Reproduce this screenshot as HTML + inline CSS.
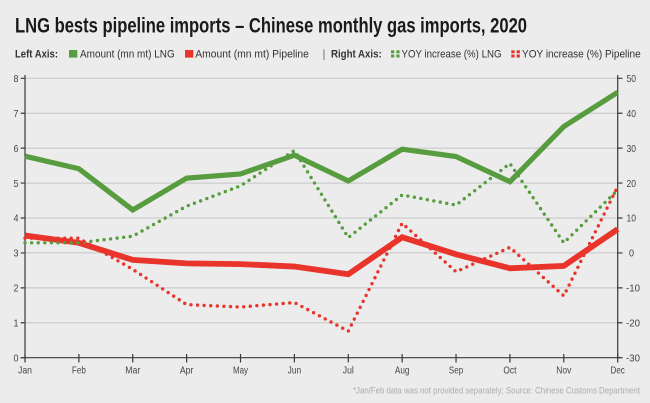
<!DOCTYPE html>
<html>
<head>
<meta charset="utf-8">
<style>
  html,body{margin:0;padding:0;background:#ececec;}
  svg{display:block;}
  text{font-family:"Liberation Sans",sans-serif;}
</style>
</head>
<body>
<svg width="650" height="403" viewBox="0 0 650 403" xmlns="http://www.w3.org/2000/svg">
  <rect x="0" y="0" width="650" height="403" fill="#ececec"/>

  <!-- Title -->
  <text x="15" y="32.3" font-size="21" font-weight="bold" fill="#1a1a1a" textLength="512" lengthAdjust="spacingAndGlyphs">LNG bests pipeline imports – Chinese monthly gas imports, 2020</text>

  <!-- Legend -->
  <g font-size="11" fill="#333">
    <text x="15" y="57.7" font-weight="bold" textLength="43" lengthAdjust="spacingAndGlyphs">Left Axis:</text>
    <rect x="69" y="50" width="8.3" height="7.6" fill="#579c3e"/>
    <text x="80" y="57.7" textLength="94.7" lengthAdjust="spacingAndGlyphs">Amount (mn mt) LNG</text>
    <rect x="185" y="50" width="8.3" height="7.6" fill="#e8342a"/>
    <text x="195.3" y="57.7" textLength="113.6" lengthAdjust="spacingAndGlyphs">Amount (mn mt) Pipeline</text>
    <text x="322.5" y="57.7" fill="#666">|</text>
    <text x="331" y="57.7" font-weight="bold" textLength="50.7" lengthAdjust="spacingAndGlyphs">Right Axis:</text>
    <g fill="#579c3e">
      <rect x="391" y="50.3" width="3.3" height="3"/><rect x="396.3" y="50.3" width="3.3" height="3"/>
      <rect x="391" y="54.5" width="3.3" height="3"/><rect x="396.3" y="54.5" width="3.3" height="3"/>
    </g>
    <text x="401.5" y="57.7" textLength="100" lengthAdjust="spacingAndGlyphs">YOY increase (%) LNG</text>
    <g fill="#e8342a">
      <rect x="511.3" y="50.3" width="3.3" height="3"/><rect x="516.6" y="50.3" width="3.3" height="3"/>
      <rect x="511.3" y="54.5" width="3.3" height="3"/><rect x="516.6" y="54.5" width="3.3" height="3"/>
    </g>
    <text x="522" y="57.7" textLength="118.7" lengthAdjust="spacingAndGlyphs">YOY increase (%) Pipeline</text>
  </g>

  <!-- Gridlines -->
  <g stroke="#c6c6c6" stroke-width="1">
    <line x1="25" y1="78.3" x2="617.7" y2="78.3"/>
    <line x1="25" y1="113.23" x2="617.7" y2="113.23"/>
    <line x1="25" y1="148.15" x2="617.7" y2="148.15"/>
    <line x1="25" y1="183.08" x2="617.7" y2="183.08"/>
    <line x1="25" y1="218" x2="617.7" y2="218"/>
    <line x1="25" y1="252.93" x2="617.7" y2="252.93"/>
    <line x1="25" y1="287.85" x2="617.7" y2="287.85"/>
    <line x1="25" y1="322.78" x2="617.7" y2="322.78"/>
  </g>

  <!-- Axes -->
  <g stroke="#3a3a3a" stroke-width="1.2" fill="none">
    <line x1="25" y1="75" x2="25" y2="358.3"/>
    <line x1="617.7" y1="75" x2="617.7" y2="358.3"/>
    <line x1="20.5" y1="357.7" x2="622.5" y2="357.7"/>
    <path d="M20.7 78.3H25M20.7 113.23H25M20.7 148.15H25M20.7 183.08H25M20.7 218H25M20.7 252.93H25M20.7 287.85H25M20.7 322.78H25M20.7 357.7H25"/>
    <path d="M617.7 78.3H622.5M617.7 113.23H622.5M617.7 148.15H622.5M617.7 183.08H622.5M617.7 218H622.5M617.7 252.93H622.5M617.7 287.85H622.5M617.7 322.78H622.5M617.7 357.7H622.5"/>
    <path d="M25 354V362.5M78.88 354V362.5M132.76 354V362.5M186.64 354V362.5M240.52 354V362.5M294.4 354V362.5M348.28 354V362.5M402.16 354V362.5M456.04 354V362.5M509.92 354V362.5M563.8 354V362.5M617.68 354V362.5"/>
  </g>

  <!-- Left labels -->
  <g font-size="10.5" fill="#444" text-anchor="end">
    <text x="18.5" y="82" textLength="5" lengthAdjust="spacingAndGlyphs">8</text>
    <text x="18.5" y="116.9" textLength="5" lengthAdjust="spacingAndGlyphs">7</text>
    <text x="18.5" y="151.8" textLength="5" lengthAdjust="spacingAndGlyphs">6</text>
    <text x="18.5" y="186.8" textLength="5" lengthAdjust="spacingAndGlyphs">5</text>
    <text x="18.5" y="221.7" textLength="5" lengthAdjust="spacingAndGlyphs">4</text>
    <text x="18.5" y="256.6" textLength="5" lengthAdjust="spacingAndGlyphs">3</text>
    <text x="18.5" y="291.5" textLength="5" lengthAdjust="spacingAndGlyphs">2</text>
    <text x="18.5" y="326.5" textLength="5" lengthAdjust="spacingAndGlyphs">1</text>
    <text x="18.5" y="361.4" textLength="5" lengthAdjust="spacingAndGlyphs">0</text>
  </g>

  <!-- Right labels -->
  <g font-size="10.5" fill="#444">
    <text x="626.5" y="82" textLength="9.5" lengthAdjust="spacingAndGlyphs">50</text>
    <text x="626.5" y="116.9" textLength="9.5" lengthAdjust="spacingAndGlyphs">40</text>
    <text x="626.5" y="151.8" textLength="9.5" lengthAdjust="spacingAndGlyphs">30</text>
    <text x="626.5" y="186.8" textLength="9.5" lengthAdjust="spacingAndGlyphs">20</text>
    <text x="626.5" y="221.7" textLength="9.5" lengthAdjust="spacingAndGlyphs">10</text>
    <text x="629" y="256.6" textLength="5" lengthAdjust="spacingAndGlyphs">0</text>
    <text x="626" y="291.5" textLength="14" lengthAdjust="spacingAndGlyphs">-10</text>
    <text x="626" y="326.5" textLength="14" lengthAdjust="spacingAndGlyphs">-20</text>
    <text x="626" y="361.4" textLength="14" lengthAdjust="spacingAndGlyphs">-30</text>
  </g>

  <!-- Month labels -->
  <g font-size="10.5" fill="#444" text-anchor="middle">
    <text x="25" y="373.4" textLength="14" lengthAdjust="spacingAndGlyphs">Jan</text>
    <text x="78.88" y="373.4" textLength="14" lengthAdjust="spacingAndGlyphs">Feb</text>
    <text x="132.76" y="373.4" textLength="15" lengthAdjust="spacingAndGlyphs">Mar</text>
    <text x="186.64" y="373.4" textLength="13.5" lengthAdjust="spacingAndGlyphs">Apr</text>
    <text x="240.52" y="373.4" textLength="15" lengthAdjust="spacingAndGlyphs">May</text>
    <text x="294.4" y="373.4" textLength="13.5" lengthAdjust="spacingAndGlyphs">Jun</text>
    <text x="348.28" y="373.4" textLength="11" lengthAdjust="spacingAndGlyphs">Jul</text>
    <text x="402.16" y="373.4" textLength="14.5" lengthAdjust="spacingAndGlyphs">Aug</text>
    <text x="456.04" y="373.4" textLength="14.3" lengthAdjust="spacingAndGlyphs">Sep</text>
    <text x="509.92" y="373.4" textLength="13" lengthAdjust="spacingAndGlyphs">Oct</text>
    <text x="563.8" y="373.4" textLength="15" lengthAdjust="spacingAndGlyphs">Nov</text>
    <text x="617.68" y="373.4" textLength="14.3" lengthAdjust="spacingAndGlyphs">Dec</text>
  </g>

  <!-- Solid series -->
  <polyline fill="none" stroke="#579c3e" stroke-width="5.2" stroke-linejoin="miter" stroke-miterlimit="6"
    points="25,156.18 78.88,168.76 132.76,209.97 186.64,178.19 240.52,173.99 294.4,155.13 348.28,180.98 402.16,149.2 456.04,156.53 509.92,181.68 563.8,126.5 617.68,92.27"/>
  <polyline fill="none" stroke="#e8342a" stroke-width="5.8" stroke-linejoin="miter" stroke-miterlimit="6"
    points="25,235.46 78.88,242.8 132.76,259.91 186.64,263.4 240.52,264.1 294.4,266.55 348.28,274.23 402.16,237.21 456.04,254.32 509.92,268.29 563.8,265.85 617.68,229.18"/>

  <!-- Dotted series -->
  <polyline fill="none" stroke="#579c3e" stroke-width="3.4" stroke-linecap="round" stroke-dasharray="0 6.6" stroke-linejoin="round"
    points="25,242.8 78.88,242.8 132.76,236.16 186.64,206.13 240.52,185.87 294.4,150.6 348.28,237.56 402.16,194.95 456.04,205.08 509.92,163.52 563.8,242.8 617.68,190.06"/>
  <polyline fill="none" stroke="#e8342a" stroke-width="3.4" stroke-linecap="round" stroke-dasharray="0 6.6" stroke-linejoin="round"
    points="25,238.26 78.88,238.26 132.76,269.34 186.64,304.61 240.52,307.06 294.4,302.52 348.28,331.16 402.16,223.24 456.04,271.78 509.92,247.34 563.8,295.88 617.68,186.57"/>

  <!-- Footer -->
  <text x="640" y="393.3" font-size="9.5" fill="#ababab" text-anchor="end" textLength="287" lengthAdjust="spacingAndGlyphs">*Jan/Feb data was not provided separately; Source: Chinese Customs Department</text>
</svg>
</body>
</html>
